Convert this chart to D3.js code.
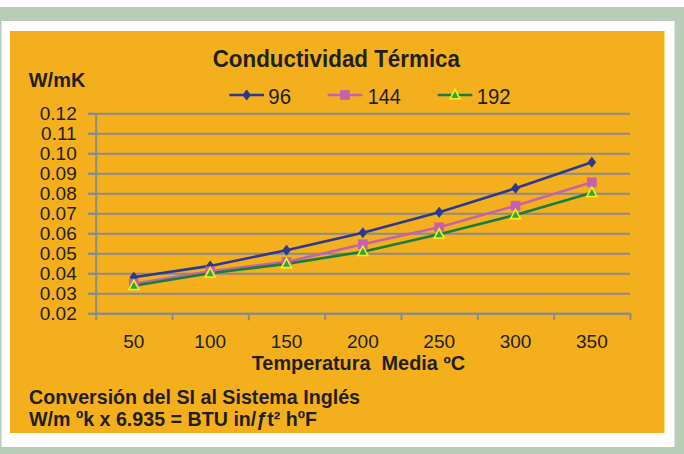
<!DOCTYPE html>
<html>
<head>
<meta charset="utf-8">
<script src="https://cdn.jsdelivr.net/npm/d3@7"></script>
<style>
  html, body { margin: 0; padding: 0; background: #ffffff; }
  svg { display: block; }
  text { font-family: "Liberation Sans", Arial, Helvetica, sans-serif; fill: #231f20; }
</style>
</head>
<body>
<svg id="chart" width="684" height="454"></svg>
<script>
// ---- data ----
const categories = ["50", "100", "150", "200", "250", "300", "350"];
const series96  = [0.0380, 0.0437, 0.0515, 0.0603, 0.0705, 0.0825, 0.0955];
const series144 = [0.0348, 0.0410, 0.0457, 0.0545, 0.0630, 0.0738, 0.0855];
const series192 = [0.0338, 0.0400, 0.0447, 0.0508, 0.0595, 0.0692, 0.0803];
const seriesNames = ["96", "144", "192"];
const yTicks = [0.02, 0.03, 0.04, 0.05, 0.06, 0.07, 0.08, 0.09, 0.10, 0.11, 0.12];
const titleText = "Conductividad Térmica";
const yTitle = "W/mK";
const xTitle = "Temperatura  Media ºC";
const note1 = "Conversión del SI al Sistema Inglés";
const note2 = "W/m ºk x 6.935 = BTU in/ƒt² hºF";

(function () {
// ---- layout ----
const svg = d3.select("#chart");
const pLeft = 95.7, pRight = 630, pTop = 113.3, pBottom = 313.3;

svg.append("rect").attr("x", 0).attr("y", 7).attr("width", 684).attr("height", 447).attr("fill", "#b8cdb7");
svg.append("rect").attr("x", 1.5).attr("y", 21).attr("width", 673).attr("height", 426).attr("fill", "#ffffff");
svg.append("rect").attr("x", 10).attr("y", 31).attr("width", 654.5).attr("height", 402).attr("fill", "#f4b01c");

const x = d3.scaleBand().domain(categories).range([pLeft, pRight]).paddingInner(0).paddingOuter(0);
const xb = d3.scaleLinear().domain([0, categories.length]).range([pLeft, pRight]);
const y = d3.scaleLinear().domain([0.02, 0.12]).range([pBottom, pTop]);

const gridColor = "#8a8a8a";

// gridlines
const grid = svg.append("g").attr("transform", `translate(${pRight},0)`)
  .call(d3.axisLeft(y).tickValues(yTicks).tickSize(pRight - pLeft + 7.7).tickFormat(""));
grid.select(".domain").remove();
grid.selectAll("line").attr("stroke", gridColor).attr("stroke-width", 2);

// y axis
const ya = svg.append("g").attr("transform", `translate(${pLeft},0)`)
  .call(d3.axisLeft(y).tickValues(yTicks).tickSizeInner(7.7).tickSizeOuter(0).tickPadding(11.3).tickFormat(d3.format(".2f")));
ya.select(".domain").attr("stroke", gridColor).attr("stroke-width", 2);
ya.selectAll("line").attr("stroke", gridColor).attr("stroke-width", 2);
ya.selectAll("text").attr("font-size", 19).attr("fill", "#231f20")
  .attr("font-family", '"Liberation Sans", Arial, sans-serif');

// x axis boundary ticks
const xt = svg.append("g").attr("transform", `translate(0,${pBottom})`)
  .call(d3.axisBottom(xb).tickValues(d3.range(categories.length + 1)).tickSizeInner(7).tickSizeOuter(0).tickFormat(""));
xt.select(".domain").attr("stroke", gridColor).attr("stroke-width", 2);
xt.selectAll("line").attr("stroke", gridColor).attr("stroke-width", 2);

// x axis labels
const xa = svg.append("g").attr("transform", `translate(0,${pBottom})`)
  .call(d3.axisBottom(x).tickSize(0).tickPadding(20.9));
xa.select(".domain").remove();
xa.selectAll("text").attr("font-size", 19).attr("fill", "#231f20")
  .attr("font-family", '"Liberation Sans", Arial, sans-serif');

// series
const colors = ["#2b3990", "#c462ad", "#1b7d3c"];
const allSeries = [series96, series144, series192];
const cx = c => x(c) + x.bandwidth() / 2;

const diamond = (s) => `M0,${-s*1.15}L${s*0.9},0L0,${s*1.15}L${-s*0.9},0Z`;
const square = (s) => `M${-s},${-s}H${s}V${s}H${-s}Z`;
const triangle = (s) => `M0,${-s*1.1}L${s},${s*0.75}L${-s},${s*0.75}Z`;

function drawMarker(g, i, px, py) {
  if (i === 0) {
    g.append("path").attr("d", diamond(4.8)).attr("transform", `translate(${px},${py})`).attr("fill", colors[0]);
  } else if (i === 1) {
    g.append("path").attr("d", square(4.9)).attr("transform", `translate(${px},${py})`).attr("fill", colors[1]);
  } else {
    g.append("path").attr("d", triangle(5)).attr("transform", `translate(${px},${py})`)
      .attr("fill", "#2aa64a").attr("stroke", "#f3ef1a").attr("stroke-width", 1.6).attr("stroke-linejoin", "miter");
  }
}

const line = d3.line().x((d, j) => cx(categories[j])).y(d => y(d));
const plot = svg.append("g");
allSeries.forEach((vals, i) => {
  plot.append("path").datum(vals).attr("d", line).attr("fill", "none")
    .attr("stroke", colors[i]).attr("stroke-width", 2.6).attr("stroke-linejoin", "round");
});
allSeries.forEach((vals, i) => {
  vals.forEach((v, j) => drawMarker(plot, i, cx(categories[j]), y(v)));
});

// legend
const legendItems = [
  { x1: 229.3, x2: 264, tx: 268.3, tw: 22.7 },
  { x1: 327.7, x2: 362.3, tx: 367.7, tw: 33 },
  { x1: 437.7, x2: 472.3, tx: 476.7, tw: 34 }
];
const lg = svg.append("g");
legendItems.forEach((it, i) => {
  lg.append("line").attr("x1", it.x1).attr("x2", it.x2).attr("y1", 95).attr("y2", 95)
    .attr("stroke", colors[i]).attr("stroke-width", 2.6);
  drawMarker(lg, i, (it.x1 + it.x2) / 2, 95);
  lg.append("text").attr("x", it.tx).attr("y", 104.3).attr("font-size", 22)
    .attr("textLength", it.tw).attr("lengthAdjust", "spacingAndGlyphs").text(seriesNames[i]);
});

// titles
function boldText(str, x0, yb, size, width) {
  svg.append("text").attr("x", x0).attr("y", yb).attr("font-size", size).attr("font-weight", "bold")
    .attr("textLength", width).attr("lengthAdjust", "spacingAndGlyphs")
    .style("white-space", "pre").text(str);
}
boldText(titleText, 212.7, 66.7, 23, 247.3);
boldText(yTitle, 28.8, 87.3, 21, 56.5);
boldText(xTitle, 251.7, 370, 19.5, 213.3);
boldText(note1, 29, 404.3, 20.5, 331);
boldText(note2, 29, 425.8, 20.5, 288);
})();
</script>
</body>
</html>
